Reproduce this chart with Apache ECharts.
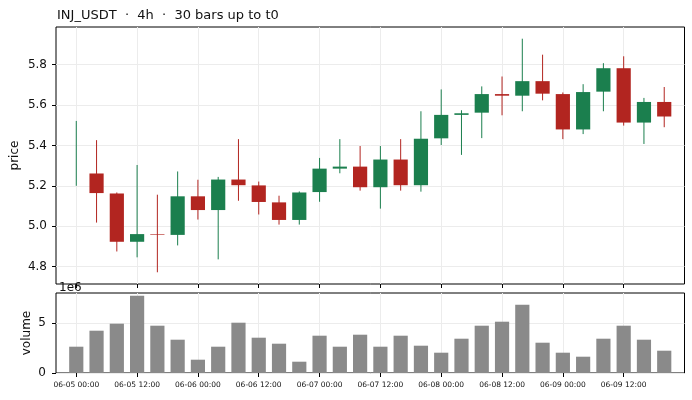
<!DOCTYPE html>
<html>
<head>
<meta charset="utf-8">
<script src="https://cdn.jsdelivr.net/npm/echarts@6/dist/echarts.min.js"></script>
<style>
  html, body { margin: 0; padding: 0; background: #fff; }
  #chart { width: 692px; height: 400px; }
</style>
</head>
<body>
<div id="chart"></div>
<script>
// 4h bars, 06-05 00:00 .. 06-09 20:00
const barTimes = [
  '06-05 00:00', '06-05 04:00', '06-05 08:00', '06-05 12:00', '06-05 16:00', '06-05 20:00',
  '06-06 00:00', '06-06 04:00', '06-06 08:00', '06-06 12:00', '06-06 16:00', '06-06 20:00',
  '06-07 00:00', '06-07 04:00', '06-07 08:00', '06-07 12:00', '06-07 16:00', '06-07 20:00',
  '06-08 00:00', '06-08 04:00', '06-08 08:00', '06-08 12:00', '06-08 16:00', '06-08 20:00',
  '06-09 00:00', '06-09 04:00', '06-09 08:00', '06-09 12:00', '06-09 16:00', '06-09 20:00'
];
const tickLabels = [
  '06-05 00:00', '06-05 12:00', '06-06 00:00', '06-06 12:00', '06-07 00:00',
  '06-07 12:00', '06-08 00:00', '06-08 12:00', '06-09 00:00', '06-09 12:00'
];
const opens  = [5.200, 5.261, 5.162, 4.923, 4.961, 4.957, 5.148, 5.080, 5.231, 5.202,
                5.118, 5.031, 5.169, 5.285, 5.295, 5.193, 5.330, 5.203, 5.435, 5.551,
                5.562, 5.654, 5.646, 5.718, 5.654, 5.479, 5.666, 5.782, 5.513, 5.615];
const closes = [5.200, 5.164, 4.923, 4.961, 4.958, 5.148, 5.080, 5.231, 5.203, 5.120,
                5.031, 5.167, 5.285, 5.295, 5.193, 5.330, 5.203, 5.433, 5.551, 5.559,
                5.654, 5.646, 5.718, 5.656, 5.479, 5.664, 5.782, 5.513, 5.615, 5.543];
const lows   = [5.200, 5.018, 4.875, 4.846, 4.772, 4.905, 5.033, 4.836, 5.126, 5.058,
                5.008, 5.008, 5.121, 5.262, 5.176, 5.087, 5.176, 5.171, 5.402, 5.353,
                5.436, 5.549, 5.569, 5.623, 5.431, 5.456, 5.569, 5.498, 5.407, 5.490];
const highs  = [5.521, 5.426, 5.167, 5.303, 5.156, 5.271, 5.230, 5.244, 5.431, 5.221,
                5.151, 5.172, 5.338, 5.431, 5.397, 5.397, 5.431, 5.569, 5.677, 5.574,
                5.692, 5.741, 5.928, 5.849, 5.662, 5.703, 5.807, 5.841, 5.635, 5.689];
const volumes = [2.63, 4.23, 4.93, 7.73, 4.73, 3.33, 1.33, 2.63, 5.03, 3.53,
                 2.93, 1.13, 3.73, 2.63, 3.83, 2.63, 3.73, 2.73, 2.03, 3.43,
                 4.73, 5.13, 6.83, 3.03, 2.03, 1.63, 3.43, 4.73, 3.33, 2.23]; // x 1e6
const priceTicks = [4.8, 5.0, 5.2, 5.4, 5.6, 5.8];
const volumeTicks = [0, 5e6];

const UP = '#1b7f4e';
const DOWN = '#b22520';
const FONT = 'DejaVu Sans';

// one empty slot each side so the bars sit one step in from the frame
const cats = [''].concat(barTimes, ['']);
const isTick = (i) => i >= 1 && i <= 30 && tickLabels.indexOf(cats[i]) >= 0;

const candleData = barTimes.map((t, i) => [i + 1, opens[i], closes[i], lows[i], highs[i]]);
const volumeData = ['-'].concat(volumes.map(v => v * 1e6), ['-']);

function renderCandle(params, api) {
  const x = api.value(0);
  const o = api.value(1), c = api.value(2), l = api.value(3), h = api.value(4);
  const pl = api.coord([x, l]), ph = api.coord([x, h]);
  const po = api.coord([x, o]), pc = api.coord([x, c]);
  const w = api.size([1, 0])[0] * 0.7;
  const color = c >= o ? UP : DOWN;
  return {
    type: 'group',
    children: [
      { type: 'line', shape: { x1: pl[0], y1: pl[1], x2: ph[0], y2: ph[1] },
        style: { stroke: color, lineWidth: 1 } },
      { type: 'rect', shape: { x: po[0] - w / 2, y: Math.min(po[1], pc[1]), width: w, height: Math.abs(po[1] - pc[1]) },
        style: { fill: color } }
    ]
  };
}

const gridLine = { show: true, lineStyle: { color: '#ececec', width: 1 } };

const chart = echarts.init(document.getElementById('chart'));
chart.setOption({
  animation: false,
  textStyle: { fontFamily: FONT },
  title: [
    { text: 'INJ_USDT  ·  4h  ·  30 bars up to t0', left: 52, top: 4,
      textStyle: { fontFamily: FONT, fontSize: 13, fontWeight: 'normal', color: '#111' } },
    { text: '1e6', left: 54, top: 277,
      textStyle: { fontFamily: FONT, fontSize: 12, fontWeight: 'normal', color: '#111' } }
  ],
  grid: [
    { left: 56, right: 7.5, top: 27, height: 257, outerBoundsMode: 'none', containLabel: false,
      show: true, borderColor: '#000', borderWidth: 1, backgroundColor: 'transparent' },
    { left: 56, right: 7.5, top: 293, height: 80, outerBoundsMode: 'none', containLabel: false,
      show: true, borderColor: '#000', borderWidth: 1, backgroundColor: 'transparent' }
  ],
  xAxis: [
    { type: 'category', gridIndex: 0, data: cats, boundaryGap: false,
      axisLine: { show: false },
      axisTick: { show: true, length: 4, interval: isTick, lineStyle: { color: '#000' } },
      axisLabel: { show: false },
      splitLine: Object.assign({ interval: isTick }, gridLine) },
    { type: 'category', gridIndex: 1, data: cats, boundaryGap: false,
      axisLine: { show: false },
      axisTick: { show: true, length: 4, interval: isTick, lineStyle: { color: '#000' } },
      axisLabel: { interval: isTick, fontSize: 7.5, color: '#111', margin: 8, fontFamily: FONT },
      splitLine: Object.assign({ interval: isTick }, gridLine) }
  ],
  yAxis: [
    { type: 'value', gridIndex: 0, min: 4.714, max: 5.986,
      name: 'price', nameLocation: 'middle', nameGap: 35, nameRotate: 90, nameMoveOverlap: false,
      nameTextStyle: { fontFamily: FONT, fontSize: 12, color: '#111' },
      axisLine: { show: false },
      axisTick: { show: true, length: 4, customValues: priceTicks, lineStyle: { color: '#000' } },
      axisLabel: { customValues: priceTicks, fontSize: 12, color: '#111', margin: 9, fontFamily: FONT,
        formatter: v => v.toFixed(1) },
      splitLine: gridLine },
    { type: 'value', gridIndex: 1, min: 0, max: 8.0e6,
      name: 'volume', nameLocation: 'middle', nameGap: 23, nameRotate: 90, nameMoveOverlap: false,
      nameTextStyle: { fontFamily: FONT, fontSize: 12, color: '#111' },
      axisLine: { show: false },
      axisTick: { show: true, length: 4, customValues: volumeTicks, lineStyle: { color: '#000' } },
      axisLabel: { customValues: volumeTicks, fontSize: 12, color: '#111', margin: 10, fontFamily: FONT,
        formatter: v => String(Math.round(v / 1e6)) },
      splitLine: gridLine }
  ],
  series: [
    { type: 'custom', xAxisIndex: 0, yAxisIndex: 0, data: candleData, renderItem: renderCandle,
      encode: { x: 0, y: [1, 2, 3, 4] } },
    { type: 'bar', xAxisIndex: 1, yAxisIndex: 1, data: volumeData, barWidth: '70%',
      itemStyle: { color: '#8a8a8a' } }
  ]
});
</script>
</body>
</html>
